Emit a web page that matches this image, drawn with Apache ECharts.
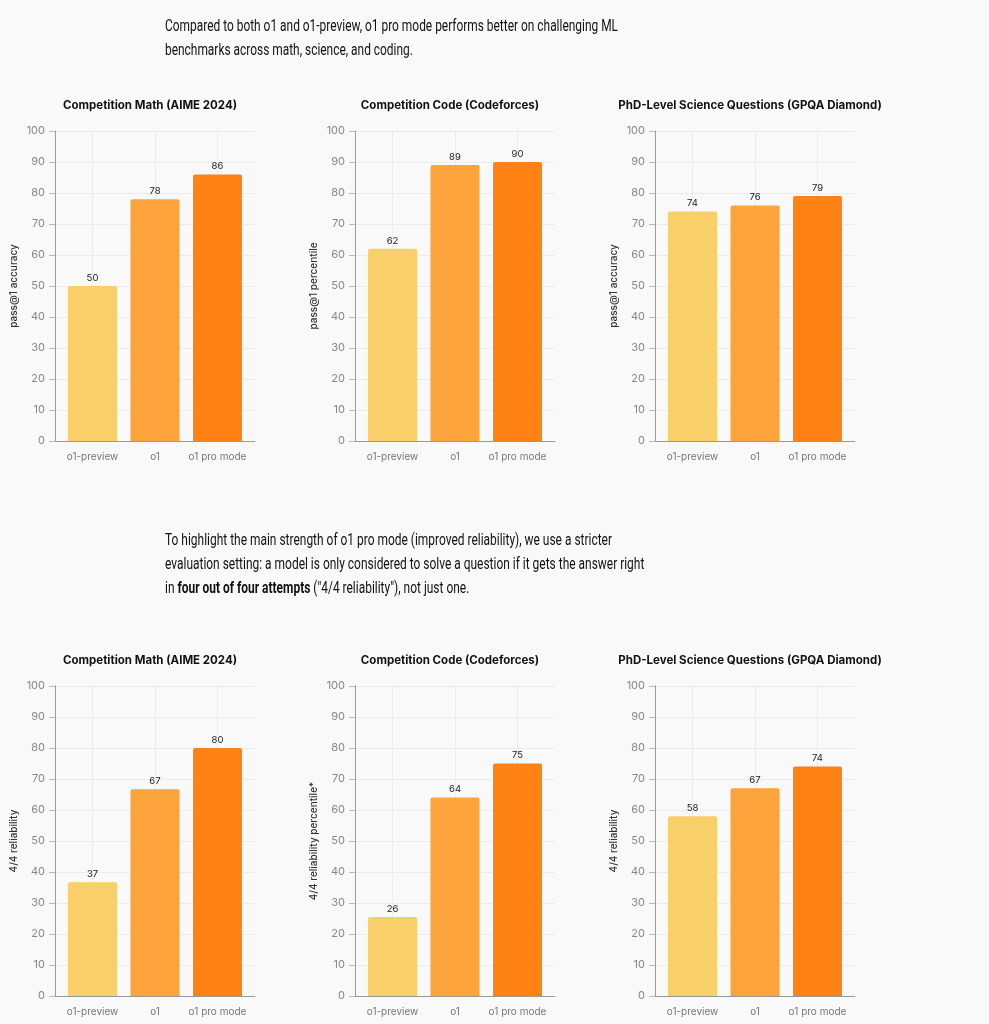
<!DOCTYPE html>
<html>
<head>
<meta charset="utf-8">
<script src="https://cdn.jsdelivr.net/npm/echarts@6/dist/echarts.min.js"></script>
<style>
  html, body { margin: 0; padding: 0; background: #f9f9f9; }
  #chart { width: 989px; height: 1024px; }
</style>
</head>
<body>
<div id="chart"></div>
<script>
const models = ['o1-preview', 'o1', 'o1 pro mode'];
const chartTitles = ['Competition Math (AIME 2024)', 'Competition Code (Codeforces)', 'PhD-Level Science Questions (GPQA Diamond)'];
const passAxisNames = ['pass@1 accuracy', 'pass@1 percentile', 'pass@1 accuracy'];
const reliabilityAxisNames = ['4/4 reliability', '4/4 reliability percentile*', '4/4 reliability'];

const mathPass = [50, 78, 86];
const codePass = [62, 89, 90];
const sciencePass = [74, 76, 79];
const mathReliability = [36.7, 66.7, 80];
const codeReliability = [25.5, 64, 75];
const scienceReliability = [58, 67, 74];

const introLines = [
  'Compared to both o1 and o1-preview, o1 pro mode performs better on challenging ML',
  'benchmarks across math, science, and coding.'
];
const reliabilityLines = [
  'To highlight the main strength of o1 pro mode (improved reliability), we use a stricter',
  'evaluation setting: a model is only considered to solve a question if it gets the answer right',
  'in {b|four out of four attempts} ("4/4 reliability"), not just one.'
];

const barColors = ['#f9cf6a', '#fda33b', '#ff8314'];
const FONT = 'Inter, "Noto Sans", sans-serif';
const TEXT_FONT = 'Roboto, "Noto Sans", sans-serif';

const rows = [
  {top: 131, names: passAxisNames, values: [mathPass, codePass, sciencePass], titleY: 106},
  {top: 686, names: reliabilityAxisNames, values: [mathReliability, codeReliability, scienceReliability], titleY: 661}
];

const grid = [], xAxis = [], yAxis = [], series = [], graphic = [];

rows.forEach((row, r) => {
  for (let c = 0; c < 3; c++) {
    const idx = r * 3 + c;
    const left = 55 + c * 300;
    grid.push({left: left, top: row.top, width: 200, height: 310});
    xAxis.push({
      type: 'value',
      gridIndex: idx,
      min: -0.6,
      max: 2.6,
      axisLine: {show: true, onZero: false, lineStyle: {color: '#9a9a9a', width: 1}},
      axisTick: {show: false, customValues: [0, 1, 2]},
      axisLabel: {
        customValues: [0, 1, 2],
        formatter: (v) => models[Math.round(v)],
        color: '#777',
        fontSize: 10,
        fontFamily: FONT,
        margin: 11
      },
      splitLine: {show: true, lineStyle: {color: '#ececec', width: 1}}
    });
    yAxis.push({
      type: 'value',
      gridIndex: idx,
      min: 0,
      max: 100,
      interval: 10,
      name: row.names[c],
      nameLocation: 'middle',
      nameGap: 36,
      nameTextStyle: {color: '#333', fontSize: 10, fontFamily: FONT, fontWeight: 500},
      axisLine: {show: true, onZero: false, lineStyle: {color: '#9a9a9a', width: 1}},
      axisTick: {show: true, length: 6, lineStyle: {color: '#bbb'}},
      axisLabel: {color: '#888', fontSize: 11, fontFamily: FONT, margin: 10},
      splitLine: {show: true, lineStyle: {color: '#ececec', width: 1}}
    });
    series.push({
      type: 'bar',
      xAxisIndex: idx,
      yAxisIndex: idx,
      barWidth: 49,
      data: row.values[c].map((v, i) => ({
        value: [i, v],
        itemStyle: {color: barColors[i], borderRadius: [2, 2, 0, 0]}
      })),
      label: {
        show: true,
        position: 'top',
        distance: 3,
        color: '#222',
        fontSize: 9.5,
        fontFamily: FONT,
        formatter: (p) => Math.round(p.value[1])
      }
    });
    graphic.push({
      type: 'text',
      x: left + 95,
      y: row.titleY,
      style: {
        text: chartTitles[c],
        textAlign: 'center',
        textVerticalAlign: 'middle',
        font: 'bold 11.5px ' + FONT,
        fill: '#111'
      }
    });
  }
});

// paragraph text, squeezed to the reference's narrow face
const ctx = document.createElement('canvas').getContext('2d');
ctx.font = '16px ' + TEXT_FONT;
const introScale = 453 / ctx.measureText(introLines[0]).width;
const relScale = 447 / ctx.measureText(reliabilityLines[0]).width;

introLines.forEach((t, i) => {
  graphic.push({
    type: 'text', x: 165, y: 18.5 + i * 24, scaleX: introScale,
    style: {text: t, font: '16px ' + TEXT_FONT, fill: '#111', textVerticalAlign: 'alphabetic'}
  });
});
reliabilityLines.forEach((t, i) => {
  graphic.push({
    type: 'text', x: 165, y: 549 + i * 24, scaleX: relScale,
    style: {
      text: t, font: '16px ' + TEXT_FONT, fill: '#111', textVerticalAlign: 'bottom',
      rich: {b: {fontWeight: 'bold', fontSize: 16, fontFamily: TEXT_FONT, fill: '#111'}}
    }
  });
});

const chart = echarts.init(document.getElementById('chart'));
chart.setOption({
  backgroundColor: '#f9f9f9',
  animation: false,
  grid: grid,
  xAxis: xAxis,
  yAxis: yAxis,
  series: series,
  graphic: graphic
});
</script>
</body>
</html>
